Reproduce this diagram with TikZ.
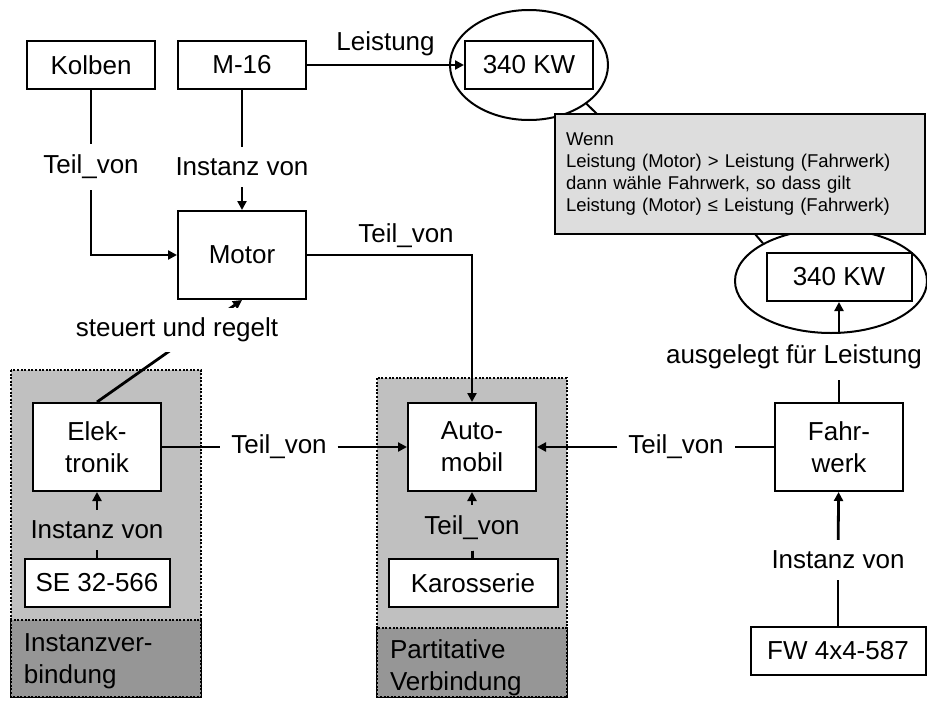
\documentclass[tikz,border=0pt]{standalone}
\usepackage{fontspec}
\setmainfont{Liberation Sans}
\usetikzlibrary{arrows.meta, positioning, shapes.geometric, calc}
\definecolor{grplight}{HTML}{C0C0C0}
\definecolor{grpdark}{HTML}{969696}
\definecolor{notegrey}{HTML}{DDDDDD}
\newcommand\mainsize{\fontsize{13}{16}\selectfont}
\newcommand\notesize{\fontsize{9.25}{11}\selectfont}
\tikzset{
  every picture/.style={line width=1pt},
  box/.style={draw, fill=white, align=center, inner sep=0pt, minimum width=64pt, minimum height=24pt, font=\mainsize},
  tallbox/.style={box, minimum height=44pt},
  lbl/.style={font=\mainsize, inner sep=5pt},
  link/.style={line width=1.4pt},
  arrow/.style={-{Triangle[length=4.5pt, width=4.5pt]}, line width=1.4pt},
  note/.style={draw, fill=notegrey, align=left, inner sep=5.5pt, font=\notesize},
}

\begin{document}
\begin{tikzpicture}[x=0.5pt, y=-0.5pt,
  grp/.style={draw, line width=1.1pt, dash pattern=on 1pt off 0.8pt},
  gtitle/.style={font=\mainsize, align=left, anchor=west, inner sep=0pt},
  ring/.style={draw, ellipse, inner sep=0pt}]
  \useasboundingbox (0,0) rectangle (927,702);
  % groups
  \draw[grp, fill=grplight] (11,370) rectangle (201,697);
  \draw[grp, fill=grpdark] (11,620) rectangle (201,697);
  \draw[grp, fill=grplight] (377,378) rectangle (567,697);
  \draw[grp, fill=grpdark] (377,628) rectangle (567,697);
  \node[gtitle] (tInst) at (23,661) {Instanzver-\\bindung};
  \node[gtitle] (tPart) at (389,668) {Partitative\\Verbindung};
  % rings
  \node[ring, minimum width=79pt, minimum height=55pt] (ellA) at (529,65) {};
  \node[ring, minimum width=96pt, minimum height=52pt] (ellB) at (831,281) {};
  % boxes
  \foreach \n/\x/\y/\w/\t in {kolben/91/65/64/Kolben, m16/242/65/64/M-16, kwA/529/65/64/340 KW,
      kwB/839/277/72.5/340 KW, se/97/583/72.5/SE 32-566, karo/473/583/84.5/Karosserie, fw/838/651/87.5/FW 4x4-587}
    \node[box, minimum width=\w pt] (\n) at (\x,\y) {\t};
  \foreach \n/\x/\t in {elek/97/Elek-\\tronik, auto/472/Auto-\\mobil, fahr/839/Fahr-\\werk}
    \node[tallbox] (\n) at (\x,447) {\t};
  \node[tallbox] (motor) at (242,255) {Motor};
  % condition note
  \coordinate (pA) at (597,114);
  \coordinate (pB) at (755,234);
  \draw (ellA.-34) -- (pA);
  \draw (pB) -- (ellB.151);
  \node[note, minimum width=185pt, minimum height=60pt, text width=174pt] (cond) at (740,174)
    {Wenn\\Leistung (Motor) > Leistung (Fahrwerk)\\dann wähle Fahrwerk, so dass gilt\\Leistung (Motor) ≤ Leistung (Fahrwerk)};
  % labels
  \node[lbl] (lblKT) at (91,167) {Teil\_von};
  \node[lbl] (lblMI) at (242,167) {Instanz von};
  \node[lbl] (lblET) at (279,447) {Teil\_von};
  \node[lbl] (lblFT) at (676,447) {Teil\_von};
  \node[lbl] (lblSI) at (97,530) {Instanz von};
  \node[lbl] (lblKaT) at (472,528) {Teil\_von};
  \node[lbl] (lblFI) at (838,560) {Instanz von};
  \node[lbl] (lblFL) at (794,357) {ausgelegt für Leistung};
  % connectors
  \draw[link] (kolben) -- (lblKT);
  \draw[arrow] (lblKT) |- (motor);
  \draw[link] (m16) -- (lblMI);
  \draw[arrow] (lblMI) -- (motor);
  \draw[arrow] (m16) -- node[lbl, above, inner sep=4pt] (lblL) {Leistung} (kwA);
  \draw[arrow] (motor) -| node[lbl, above, pos=0.3, inner sep=3pt] (lblMA) {Teil\_von} (auto);
  \draw[link] (elek) -- (lblET);
  \draw[arrow] (lblET) -- (auto);
  \draw[link] (fahr) -- (lblFT);
  \draw[arrow] (lblFT) -- (auto);
  \draw[link] (se) -- (lblSI);
  \draw[arrow] (lblSI) -- (elek);
  \draw[link] (karo) -- (lblKaT);
  \draw[arrow] (lblKaT) -- (auto);
  \draw[link] (fw) -- (lblFI);
  \draw[arrow] (lblFI) -- (fahr);
  \draw[link] (fahr) -- (fahr |- lblFL.south);
  \draw[arrow] (fahr |- lblFL.north) -- (kwB);
  \draw[arrow] (elek.north) -- (motor.south);
  \node[lbl, fill=white] (lblSR) at (177,330) {steuert und regelt};
\end{tikzpicture}
\end{document}
